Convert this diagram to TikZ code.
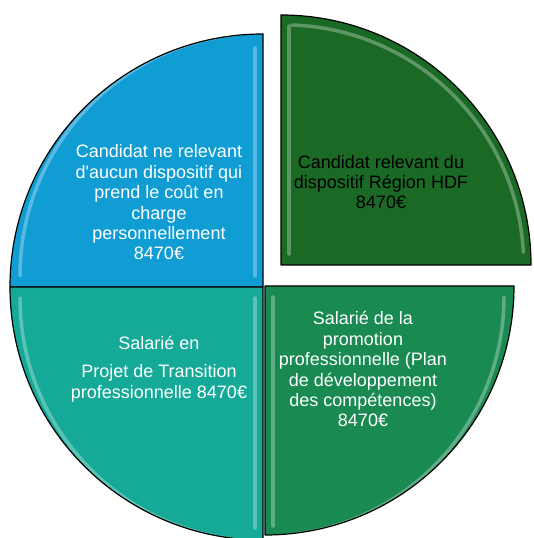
\documentclass[tikz,border=0pt]{standalone}
\usepackage{fontspec}
\setmainfont{Liberation Sans}
\definecolor{cblue}{HTML}{109DD4}
\definecolor{cdark}{HTML}{1A6A25}
\definecolor{cteal}{HTML}{15A997}
\definecolor{cgreen}{HTML}{198A52}
\tikzset{
  sector/.style={draw=black, line width=1.2pt, line join=round},
  shine/.style={white, opacity=0.3, line width=3.5pt, line cap=round},
  lbl/.style={align=center, inner sep=0pt, font=\fontsize{18}{20.4}\selectfont},
}
\begin{document}
\begin{tikzpicture}[x=1pt,y=1pt]
\useasboundingbox (0,0) rectangle (534,538);
\begin{scope}
\clip (0,0) rectangle (534,538);
% blue (top-left)
\coordinate (cb) at (263,251);
\fill[cblue] (cb) -- (10,251) arc[start angle=180, end angle=90, radius=253] -- cycle;
\draw[shine] (255,262) -- (255,490);
\draw[shine] (20,262) arc[start angle=180, end angle=95, radius=243];
\draw[sector] (cb) -- (10,251) arc[start angle=180, end angle=90, radius=253] -- cycle;
% teal (bottom-left)
\fill[cteal] (cb) -- (10,251) arc[start angle=180, end angle=270, radius=253] -- cycle;
\draw[shine] (255,240) -- (255,10);
\draw[shine] (20,240) arc[start angle=180, end angle=265, radius=243];
\draw[sector] (cb) -- (10,251) arc[start angle=180, end angle=270, radius=253] -- cycle;
% green (bottom-right)
\coordinate (cg) at (265,252);
\fill[cgreen] (cg) -- (514,252) arc[start angle=0, end angle=-90, radius=249] -- cycle;
\draw[shine] (273,241) -- (273,12);
\draw[shine] (504,241) arc[start angle=0, end angle=-85, radius=239];
\draw[sector] (cg) -- (514,252) arc[start angle=0, end angle=-90, radius=249] -- cycle;
% dark green (top-right, exploded)
\coordinate (cd) at (281,273);
\fill[cdark] (cd) -- (281,523) arc[start angle=90, end angle=0, radius=250] -- cycle;
\draw[shine] (289,284) -- (289,512);
\draw[shine] (292,513) arc[start angle=88, end angle=3, radius=240];
\draw[sector] (cd) -- (281,523) arc[start angle=90, end angle=0, radius=250] -- cycle;
\end{scope}
\node[lbl, text=white] (tb) at (159,335.5) {Candidat ne relevant\\d\textquotesingle aucun dispositif qui\\prend le coût en\\charge\\personnellement\\8470€};
\node[lbl, text=black] (td) at (381,356) {Candidat relevant du\\dispositif Région HDF\\8470€};
\node[lbl, text=white] (tt) at (159,169) {Salarié en\\[8pt]Projet de Transition\\professionnelle 8470€};
\node[lbl, text=white] (tg) at (363,168.7) {Salarié de la\\promotion\\professionnelle (Plan\\de développement\\des compétences)\\8470€};
\end{tikzpicture}
\end{document}
